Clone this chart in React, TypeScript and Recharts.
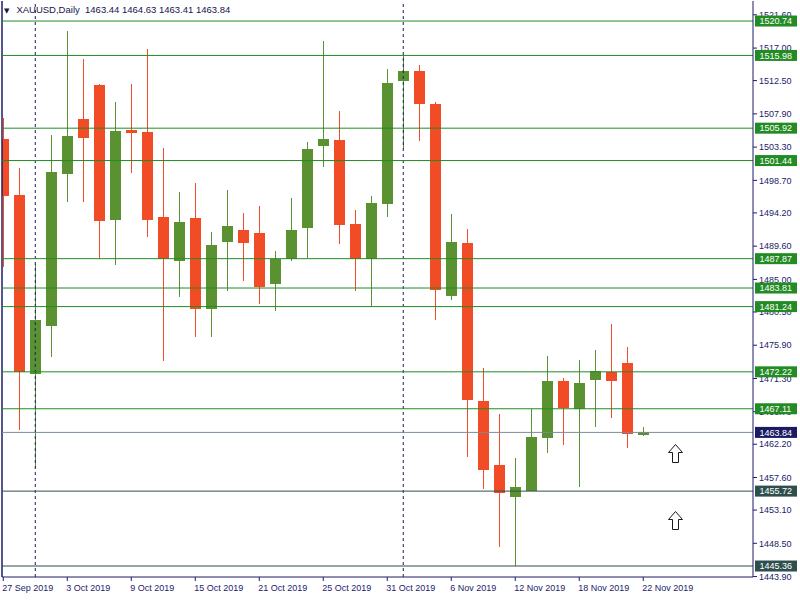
import React from 'react';
import {
  ComposedChart,
  Bar,
  XAxis,
  YAxis,
  ReferenceLine,
  ReferenceDot,
} from 'recharts';

// daily XAUUSD bars, 27 Sep 2019 - 22 Nov 2019
const dates = [
  '27 Sep 2019', '30 Sep 2019', '1 Oct 2019', '2 Oct 2019', '3 Oct 2019', '4 Oct 2019',
  '7 Oct 2019', '8 Oct 2019', '9 Oct 2019', '10 Oct 2019', '11 Oct 2019', '14 Oct 2019',
  '15 Oct 2019', '16 Oct 2019', '17 Oct 2019', '18 Oct 2019', '21 Oct 2019', '22 Oct 2019',
  '23 Oct 2019', '24 Oct 2019', '25 Oct 2019', '28 Oct 2019', '29 Oct 2019', '30 Oct 2019',
  '31 Oct 2019', '1 Nov 2019', '4 Nov 2019', '5 Nov 2019', '6 Nov 2019', '7 Nov 2019',
  '8 Nov 2019', '11 Nov 2019', '12 Nov 2019', '13 Nov 2019', '14 Nov 2019', '15 Nov 2019',
  '18 Nov 2019', '19 Nov 2019', '20 Nov 2019', '21 Nov 2019', '22 Nov 2019',
];
const opens = [
  1504.42, 1496.67, 1471.96, 1478.6, 1499.62, 1507.19, 1511.89, 1493.26, 1505.67, 1505.39,
  1493.63, 1487.59, 1493.49, 1480.95, 1490.21, 1491.83, 1491.42, 1484.41, 1487.82, 1492.15,
  1503.49, 1504.28, 1492.66, 1487.82, 1495.47, 1512.48, 1513.82, 1509.3, 1482.71, 1490.03,
  1468.18, 1459.33, 1454.95, 1455.73, 1463.11, 1470.95, 1467.07, 1471.13, 1472.19, 1473.44,
  1463.44,
];
const highs = [
  1507.28, 1500.41, 1487.17, 1504.97, 1519.36, 1515.48, 1512.03, 1509.54, 1512.03, 1516.87,
  1503.17, 1497.09, 1498.33, 1491.56, 1497.37, 1494.18, 1495.15, 1488.97, 1496.26, 1504.0,
  1517.97, 1508.29, 1494.6, 1496.54, 1514.1, 1516.0, 1514.65, 1509.54, 1494.04, 1491.97,
  1472.75, 1466.38, 1460.3, 1467.02, 1474.41, 1471.36, 1473.86, 1475.24, 1478.83, 1475.65,
  1464.63,
];
const lows = [
  1486.76, 1464.17, 1458.96, 1474.31, 1495.75, 1495.75, 1487.82, 1487.03, 1499.76, 1490.91,
  1473.76, 1482.61, 1477.07, 1477.07, 1483.44, 1484.82, 1481.64, 1480.67, 1487.59, 1488.0,
  1500.59, 1489.94, 1483.44, 1481.22, 1493.67, 1503.08, 1504.18, 1479.43, 1482.19, 1460.48,
  1456.05, 1448.03, 1445.36, 1455.73, 1461.03, 1462.14, 1456.24, 1464.63, 1465.87, 1461.72,
  1463.41,
];
const closes = [
  1496.58, 1472.24, 1479.38, 1499.86, 1504.83, 1504.6, 1493.12, 1505.53, 1505.29, 1493.26,
  1487.82, 1492.94, 1480.95, 1489.76, 1492.39, 1490.08, 1483.99, 1487.82, 1491.83, 1503.04,
  1504.42, 1492.57, 1487.82, 1495.57, 1512.16, 1513.82, 1509.3, 1483.58, 1490.17, 1468.36,
  1458.68, 1455.5, 1456.33, 1463.2, 1470.95, 1467.26, 1470.67, 1472.33, 1470.99, 1463.66,
  1463.84,
];

// horizontal levels drawn on the chart
const levels = [
  1520.74, 1515.98, 1505.92, 1501.44, 1487.87, 1483.81, 1481.24, 1472.22, 1467.11,
  1463.84, 1455.72, 1445.36,
];
const levelKinds = [
  'green', 'green', 'green', 'green', 'green', 'green', 'green', 'green', 'green',
  'price', 'slate', 'slate',
];

const priceTicks = [
  1521.6, 1517.0, 1512.5, 1507.9, 1503.3, 1498.7, 1494.2, 1489.6, 1485.0, 1480.5,
  1475.9, 1471.3, 1466.7, 1462.2, 1457.6, 1453.1, 1448.5, 1443.9,
];
const dateTickIndexes = [0, 4, 8, 12, 16, 20, 24, 28, 32, 36, 40];
const separatorIndexes = [2, 25]; // 1 Oct, 1 Nov
const arrowIndexes = [42, 42];
const arrowPrices = [1462.24, 1452.97];

const header = {
  symbol: 'XAUUSD,Daily',
  ohlc: ['1463.44', '1464.63', '1463.41', '1463.84'],
};

const X_MIN = -0.08;
const X_MAX = 46.86;
const Y_DOMAIN = [1443.84, 1523.51];

const colors = {
  up: '#5b9231',
  down: '#f24c26',
  axis: '#1c1c6a',
  text: '#1c1c6a',
  levels: {
    green: { line: '#238b23', box: '#238b23' },
    price: { line: '#7a8b9b', box: '#1b1b63' },
    slate: { line: '#2f4f4f', box: '#2f4f4f' },
  } as Record<string, { line: string; box: string }>,
};

const font = '"Liberation Sans", Arial, sans-serif';

const data = dates.map((date, i) => ({
  i,
  date,
  open: opens[i],
  high: highs[i],
  low: lows[i],
  close: closes[i],
  range: [lows[i], highs[i]],
}));

const Candle = (props: any) => {
  const { x, y, width, height, payload } = props;
  if (x == null || y == null) return null;
  const { open, high, low, close } = payload;
  const span = high - low || 1;
  const toY = (p: number) => y + ((high - p) / span) * height;
  const color = close >= open ? colors.up : colors.down;
  const cx = Math.round(x + width / 2) + 0.5;
  const top = Math.round(toY(Math.max(open, close)));
  const bottom = Math.round(toY(Math.min(open, close)));
  return (
    <g>
      <line x1={cx} x2={cx} y1={Math.round(y)} y2={Math.round(y + height)} stroke={color} strokeWidth={1} />
      <rect x={cx - 5.5} y={top} width={11} height={Math.max(bottom - top, 2)} fill={color} />
    </g>
  );
};

// price box for a level, drawn by an outer axis so it sits over the price ticks
const LevelTick = ({ x, y, payload, index }: any) => {
  const c = colors.levels[levelKinds[index]];
  const left = x - 44;
  return (
    <g>
      <rect x={left} y={y - 5.5} width={42} height={11} fill={c.box} />
      <text x={left + 4.5} y={y} dy="0.36em" fontSize={9} fill="#ffffff" fontFamily={font}>
        {Number(payload.value).toFixed(2)}
      </text>
    </g>
  );
};

const DateTick = ({ x, y, payload }: any) => (
  <text x={x - 1} y={y} dy="0.71em" fontSize={9} fill={colors.text} fontFamily={font}>
    {dates[payload.value]}
  </text>
);

const UpArrow = ({ cx, cy }: any) => {
  if (cx == null || cy == null) return null;
  const x = Math.round(cx) + 0.5;
  const y = Math.round(cy) + 0.5;
  const d = `M${x},${y} L${x + 7},${y + 8} L${x + 3},${y + 8} L${x + 3},${y + 18} L${x - 3},${y + 18} L${x - 3},${y + 8} L${x - 7},${y + 8} Z`;
  return <path d={d} fill="#ffffff" stroke="#1a1a1a" strokeWidth={1} />;
};

export default function App() {
  return (
    <div style={{ position: 'absolute', left: 0, top: 0, width: 800, height: 600, background: '#ffffff' }}>
      <ComposedChart
        width={800}
        height={600}
        data={data}
        margin={{ top: 1, right: 0, bottom: 0, left: 2 }}
      >
        <XAxis
          dataKey="i"
          type="number"
          domain={[X_MIN, X_MAX]}
          allowDataOverflow
          ticks={dateTickIndexes}
          interval={0}
          height={23}
          axisLine={{ stroke: colors.axis }}
          tickLine={{ stroke: colors.axis }}
          tickSize={4}
          tickMargin={4}
          tick={<DateTick />}
        />
        <YAxis
          orientation="right"
          domain={Y_DOMAIN}
          allowDataOverflow
          ticks={priceTicks}
          interval={0}
          width={46}
          axisLine={{ stroke: colors.axis }}
          tickLine={{ stroke: colors.axis }}
          tickSize={4}
          tickMargin={2}
          tickFormatter={(v: number) => v.toFixed(2)}
          tick={{ fontSize: 9, fill: colors.text, fontFamily: font, textAnchor: 'start' }}
        />
        <YAxis
          yAxisId="levels"
          orientation="right"
          domain={Y_DOMAIN}
          allowDataOverflow
          ticks={levels}
          interval={0}
          width={1}
          axisLine={false}
          tickLine={false}
          tickSize={0}
          tickMargin={0}
          tick={<LevelTick />}
        />
        <ReferenceLine x={X_MIN} stroke={colors.axis} strokeWidth={1.5} />
        {separatorIndexes.map((i) => (
          <ReferenceLine key={`sep-${i}`} x={i} stroke={colors.axis} strokeDasharray="3 3" />
        ))}
        {levels.map((lv, k) => (
          <ReferenceLine
            key={`lv-${lv}`}
            y={lv}
            stroke={colors.levels[levelKinds[k]].line}
            strokeWidth={1}
          />
        ))}
        <Bar
          dataKey="range"
          barSize={11}
          shape={<Candle />}
          isAnimationActive={false}
        />
        {arrowIndexes.map((i, k) => (
          <ReferenceDot key={`ar-${k}`} x={i} y={arrowPrices[k]} shape={<UpArrow />} />
        ))}
      </ComposedChart>
      <div
        style={{
          position: 'absolute',
          left: 4,
          top: 4,
          fontFamily: font,
          fontSize: 9.5,
          color: '#15154a',
          whiteSpace: 'pre',
          lineHeight: '12px',
        }}
      >
        <span style={{ fontFamily: '"DejaVu Sans"', fontSize: 7, marginRight: 7 }}>▼</span>
        {header.symbol}  {header.ohlc.join(' ')}
      </div>
    </div>
  );
}
